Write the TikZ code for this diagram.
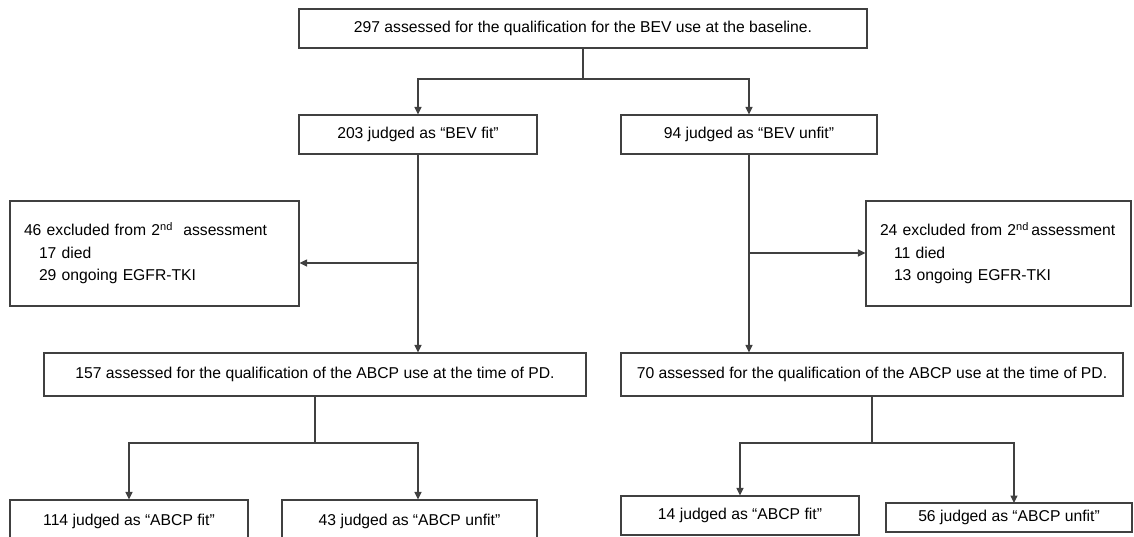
\documentclass[tikz,border=0pt]{standalone}
\usepackage{fontspec}
\setmainfont{Liberation Sans}
\usepackage{tikz}
\usetikzlibrary{arrows.meta,positioning}

\begin{document}
\begin{tikzpicture}[x=1pt,y=-1pt,
  line width=1.1pt, draw=black!75,
  >={Triangle[length=7.5pt,width=7pt]},
  every node/.style={font=\fontsize{15.7}{22.5}\selectfont},
  box/.style={draw=black!75, line width=1.1pt, inner sep=0pt, align=center},
  exbox/.style={draw=black!75, line width=1.1pt, inner xsep=14pt, inner ysep=0pt, align=left, minimum height=105pt}]
  \useasboundingbox (0,0) rectangle (1134,536);
  \clip (0,0) rectangle (1134,536);
  % first assessment
  \node[box, minimum width=568pt, minimum height=39pt] (base) at (583,28.5) {297 assessed for the qualification for the BEV use at the baseline.};
  \node[box, minimum width=238pt, minimum height=39pt] (bevfit) at (418,134.5) {203 judged as “BEV fit”};
  \node[box, minimum width=256pt, minimum height=39pt] (bevunfit) at (749,134.5) {94 judged as “BEV unfit”};
  % excluded
  \node[exbox, text width=261pt] (exl) at (154.5,253.5) {46 excluded from 2\textsuperscript{nd}\ \ assessment\\ \hspace*{15pt}17 died\\ \hspace*{15pt}29 ongoing EGFR-TKI};
  \node[exbox, text width=237pt] (exr) at (998.5,253.5) {24 excluded from 2\textsuperscript{nd}\,assessment\\ \hspace*{14pt}11 died\\ \hspace*{14pt}13 ongoing EGFR-TKI};
  % second assessment
  \node[box, minimum width=542pt, minimum height=43pt] (abcpl) at (315,374.5) {157 assessed for the qualification of the ABCP use at the time of PD.};
  \node[box, minimum width=502pt, minimum height=43pt] (abcpr) at (872,374.5) {70 assessed for the qualification of the ABCP use at the time of PD.};
  \node[box, minimum width=238pt, minimum height=43pt] (fitl) at (129,521.5) {114 judged as “ABCP fit”};
  \node[box, minimum width=255pt, minimum height=43pt] (unfitl) at (409.5,521.5) {43 judged as “ABCP unfit”};
  \node[box, minimum width=238pt, minimum height=39pt] (fitr) at (740,515.5) {14 judged as “ABCP fit”};
  \node[box, minimum width=246pt, minimum height=29pt] (unfitr) at (1009,517.5) {56 judged as “ABCP unfit”};

  \coordinate (j1) at (583,79);
  \coordinate (bl) at (418,263);
  \coordinate (br) at (749,253);
  \coordinate (j2) at (315,443);
  \coordinate (j3) at (872,443);
  \coordinate (t3) at (1014,503);

  \draw (base.south) -- (j1);
  \draw[->] (j1) -| (bevfit.north);
  \draw[->] (j1) -| (bevunfit.north);
  \draw[->] (bevfit.south) -- (bevfit.south |- abcpl.north);
  \draw[->] (bevunfit.south) -- (bevunfit.south |- abcpr.north);
  \draw[->] (bl) -- (bl -| exl.east);
  \draw[->] (br) -- (br -| exr.west);
  \draw (abcpl.south) -- (j2);
  \draw[->] (j2) -| (fitl.north);
  \draw[->] (j2) -| (bevfit.south |- unfitl.north);
  \draw (abcpr.south) -- (j3);
  \draw[->] (j3) -| (fitr.north);
  \draw[->] (j3) -| (t3);
\end{tikzpicture}
\end{document}
